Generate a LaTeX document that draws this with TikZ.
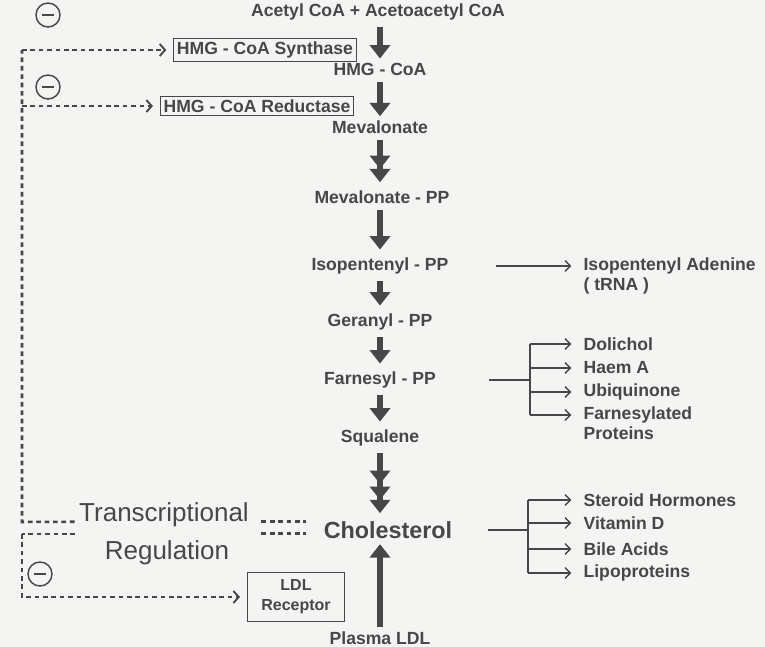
\documentclass[tikz,border=0pt]{standalone}
\usepackage{fontspec}
\setmainfont{Liberation Sans}
\usetikzlibrary{arrows.meta, positioning, calc}
\definecolor{ink}{HTML}{474747}
\definecolor{paper}{HTML}{F4F4F2}
\tikzset{
  lbl/.style={font=\fontsize{13.2}{15}\selectfont\bfseries, text=ink, inner sep=1pt},
  side/.style={lbl, anchor=west},
  enz/.style={lbl, draw=ink, line width=1pt, inner sep=2.5pt},
  fat/.style={draw=ink, line width=4.5pt, shorten <=4pt, shorten >=5pt,
    -{Triangle[width=15pt,length=10pt]}},
  fattwo/.style={fat, -{Triangle[width=15pt,length=10pt]Triangle[width=15pt,length=10pt]}},
  fatthree/.style={fat, -{Triangle[width=15pt,length=10pt,sep=2pt]Triangle[width=15pt,length=10pt]Triangle[width=15pt,length=10pt]}},
  thinarr/.style={draw=ink, line width=1pt, shorten >=8pt, -{Straight Barb[length=4pt,width=8pt]}},
  fb/.style={draw=ink, line width=1.9pt, dash pattern=on 3.5pt off 2.8pt},
  fbarr/.style={fb, shorten >=5pt, -{Straight Barb[length=4pt,width=9pt,line width=1.4pt]}},
  minus/.style={circle, draw=ink, line width=1.1pt, minimum size=18pt, inner sep=0pt, text=ink},
}

\begin{document}
\begin{tikzpicture}[x=0.75pt, y=-0.75pt]
\fill[paper] (0,0) rectangle (765,647);
\useasboundingbox (0,0) rectangle (765,647);
%% main pathway
  \node[lbl] (acetyl) at (378,12) {Acetyl CoA + Acetoacetyl CoA};
  \node[lbl] (hmgcoa) at (380,69) {HMG - CoA};
  \node[lbl] (meva) at (380,127) {Mevalonate};
  \node[lbl] (mevapp) at (382,197) {Mevalonate - PP};
  \node[lbl] (ipp) at (380,266) {Isopentenyl - PP};
  \node[lbl] (gpp) at (380,322) {Geranyl - PP};
  \node[lbl] (fpp) at (380,380) {Farnesyl - PP};
  \node[lbl] (squal) at (380,438) {Squalene};
  \node[lbl, font=\fontsize{17.5}{20}\selectfont\bfseries] (chol) at (388,530) {Cholesterol};
  \node[lbl] (pldl) at (380,638) {Plasma LDL};
  \draw[fat, shorten >=2pt] (acetyl.south -| hmgcoa) -- (hmgcoa);
  \draw[fat, shorten >=2pt] (hmgcoa) -- (meva);
  \draw[fattwo] (meva) -- (meva |- mevapp.north);
  \draw[fat] (mevapp.south -| ipp) -- (ipp);
  \draw[fat] (ipp) -- (gpp);
  \draw[fat] (gpp) -- (fpp);
  \draw[fat] (fpp) -- (squal);
  \draw[fatthree] (squal) -- (squal |- chol.north);
  \draw[fat, shorten <=2pt, shorten >=3pt] (pldl) -- (pldl |- chol.south);
%% enzymes
  \node[enz] (synth) at (265,50) {HMG - CoA Synthase};
  \node[enz] (reduct) at (257,106) {HMG - CoA Reductase};
  \node[enz, font=\fontsize{12}{15}\selectfont\bfseries, align=center,
    minimum width=73pt, minimum height=37pt] (ldlr) at (296,597) {LDL\\Receptor};
%% side products
  \node[side] (adenine) at (582,266) {Isopentenyl Adenine};
  \node[lbl, anchor=north west] (trna) at (adenine.south west) {( tRNA )};
  \draw[thinarr] ($(ipp.east)+(46,0)$) -- (adenine.west);
  \node[side] (dol) at (582,344) {Dolichol};
  \node[side] (haem) at (582,368) {Haem A};
  \node[side] (ubiq) at (582,392) {Ubiquinone};
  \node[side] (fprot) at (582,415) {Farnesylated};
  \node[lbl, anchor=north west] (fprottwo) at (fprot.south west) {Proteins};
  \coordinate (ffork) at (530,380);
  \draw[ink, line width=1pt] ($(fpp.east)+(52,0)$) -- (ffork);
  \draw[ink, line width=1pt] (ffork |- dol) -- (ffork |- fprot);
  \foreach \t in {dol, haem, ubiq, fprot}
    \draw[thinarr] (ffork |- \t) -- (\t.west);
  \node[side] (ster) at (582,500) {Steroid Hormones};
  \node[side] (vitd) at (582,523) {Vitamin D};
  \node[side] (bile) at (582,549) {Bile Acids};
  \node[side] (lipo) at (582,573) {Lipoproteins};
  \coordinate (cfork) at (528,530);
  \draw[ink, line width=1pt] ($(chol.east)+(34,0)$) -- (cfork);
  \draw[ink, line width=1pt] (cfork |- ster) -- (cfork |- lipo);
  \foreach \t in {ster, vitd, bile, lipo}
    \draw[thinarr] (cfork |- \t) -- (\t.west);
%% feedback
  \node[text=ink, font=\fontsize{19.5}{22}\selectfont] (transc) at (164,515) {Transcriptional};
  \node[text=ink, font=\fontsize{19.5}{22}\selectfont] (regul) at (167,553) {Regulation};
  \coordinate (rail) at (22,522);
  \coordinate (raillow) at (22,534);
  \draw[fb] (transc.base west) -- (rail) -- (rail |- synth);
  \draw[fbarr] (rail |- synth) -- (synth.west);
  \draw[fbarr] (rail |- reduct) -- (reduct.west);
  \draw[fb] (75,534) -- (raillow);
  \draw[fbarr] (raillow) |- (ldlr.west);
  \draw[fb] ($(transc.base east)+(8,0)$) -- ($(chol.west |- transc.base)+(-16,0)$);
  \draw[fb] ($(transc.base east)+(8,12)$) -- ($(chol.west |- transc.base)+(-16,12)$);
  \node[minus] (inhone) at (48,15) {\rule{8.5pt}{2pt}};
  \node[minus] (inhtwo) at (48,87) {\rule{8.5pt}{2pt}};
  \node[minus] (inhthree) at (40,574) {\rule{8.5pt}{2pt}};
\end{tikzpicture}
\end{document}
